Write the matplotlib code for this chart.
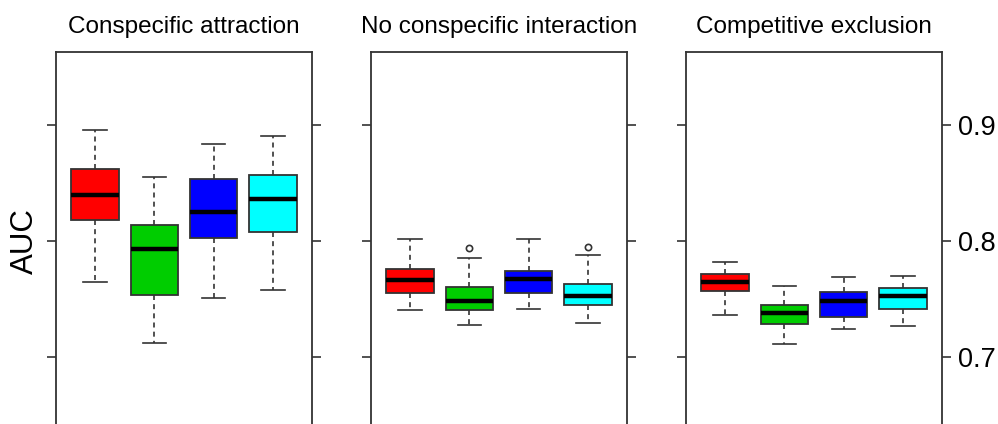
import numpy as np
import matplotlib
matplotlib.use("Agg")
import matplotlib.pyplot as plt

plt.rcParams['font.family'] = ['Liberation Sans', 'DejaVu Sans']

panels = ["Conspecific attraction", "No conspecific interaction", "Competitive exclusion"]
colors = ["#FF0000", "#00CD00", "#0000FF", "#00FFFF"]

# per panel, per box: whisker low, q1, median, q3, whisker high
attraction = [
    [0.7647, 0.8176, 0.8394, 0.8616, 0.8957],
    [0.7116, 0.7529, 0.7928, 0.8135, 0.8552],
    [0.7503, 0.8021, 0.8245, 0.8532, 0.8836],
    [0.7578, 0.8078, 0.8359, 0.8564, 0.8905],
]
no_interaction = [
    [0.7405, 0.7549, 0.7664, 0.7753, 0.8015],
    [0.7271, 0.7400, 0.7478, 0.7603, 0.7848],
    [0.7409, 0.7549, 0.7670, 0.7739, 0.8015],
    [0.7288, 0.7448, 0.7521, 0.7627, 0.7874],
]
exclusion = [
    [0.7362, 0.7564, 0.7647, 0.7710, 0.7816],
    [0.7112, 0.7282, 0.7379, 0.7443, 0.7607],
    [0.7239, 0.7345, 0.7480, 0.7560, 0.7690],
    [0.7265, 0.7411, 0.7521, 0.7590, 0.7696],
]
no_interaction_outliers = [[], [0.7934], [], [0.7948]]

all_data = [attraction, no_interaction, exclusion]
all_outliers = [[[]] * 4, no_interaction_outliers, [[]] * 4]

W, H = 998, 424
fig = plt.figure(figsize=(W / 100, H / 100), dpi=100)

ymin, ymax = 0.60, 0.9624
top_px = 52.3
height_px = (ymax - ymin) * 1160
lefts_px = [56, 371, 686]
width_px = 256
edge = "#333333"

for i, (name, data, outs) in enumerate(zip(panels, all_data, all_outliers)):
    ax = fig.add_axes([lefts_px[i] / W, 1 - (top_px + height_px) / H,
                       width_px / W, height_px / H])
    stats = []
    for d, o in zip(data, outs):
        stats.append(dict(whislo=d[0], q1=d[1], med=d[2], q3=d[3], whishi=d[4],
                          fliers=o))
    bp = ax.bxp(stats, positions=[1, 2, 3, 4], widths=0.8, patch_artist=True,
                capwidths=0.4,
                boxprops=dict(edgecolor=edge, linewidth=1.3),
                whiskerprops=dict(color=edge, linestyle=(0, (3, 2.5)), linewidth=1.2),
                capprops=dict(color=edge, linewidth=1.2),
                medianprops=dict(color="black", linewidth=3.2, solid_capstyle="butt"),
                flierprops=dict(marker="o", markersize=4.5, markerfacecolor="none",
                                markeredgecolor=edge, markeredgewidth=1.2))
    for patch, c in zip(bp["boxes"], colors):
        patch.set_facecolor(c)
    ax.set_xlim(0.34, 4.66)
    ax.set_ylim(ymin, ymax)
    ax.set_xticks([])
    ax.set_yticks([0.7, 0.8, 0.9])
    for s in ax.spines.values():
        s.set_color(edge)
        s.set_linewidth(1.3)
    ax.tick_params(axis="y", which="both", direction="out", length=6.5, width=1.2,
                   color=edge, left=True, right=True, labelleft=False,
                   labelright=(i == 2), labelsize=19.5, pad=5)
    if i == 2:
        ax.set_yticklabels(["0.7", "0.8", "0.9"])
    ax.set_title(name, fontsize=17.5, pad=13.7)
    if i == 0:
        fig.text(25 / W, 1 - 241 / H, "AUC", rotation=90, fontsize=22.5,
                 ha="center", va="center")

fig.savefig("out.png", dpi=100)
